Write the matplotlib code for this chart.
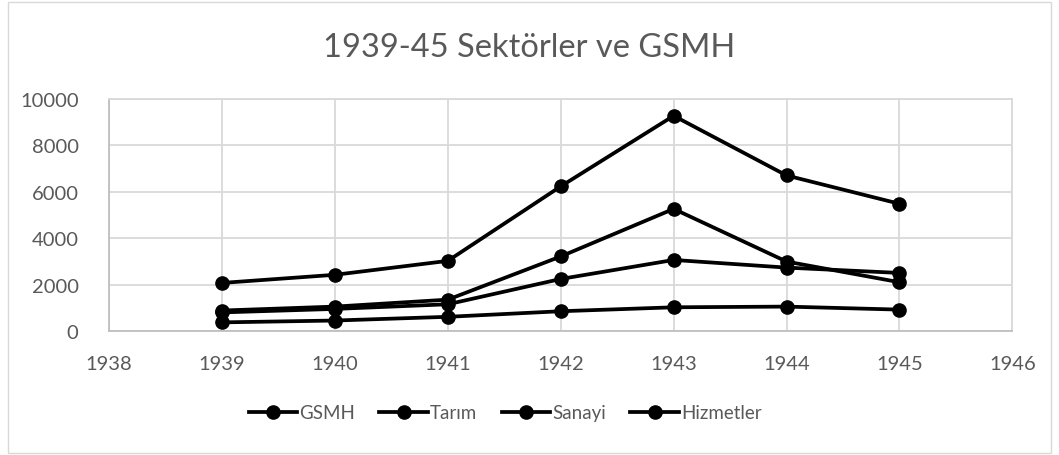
import matplotlib.pyplot as plt
from matplotlib.patches import Rectangle

years = [1939, 1940, 1941, 1942, 1943, 1944, 1945]
gsmh = [2070, 2420, 3020, 6230, 9270, 6700, 5480]
tarim = [880, 1050, 1350, 3210, 5260, 2990, 2100]
sanayi = [800, 950, 1150, 2240, 3060, 2730, 2500]
hizmetler = [370, 450, 610, 850, 1020, 1050, 920]

series = [("GSMH", gsmh), ("Tarım", tarim), ("Sanayi", sanayi), ("Hizmetler", hizmetler)]

plt.rcParams['font.family'] = ['Lato', 'DejaVu Sans']
text_gray = '#595959'
grid_gray = '#d9d9d9'

fig = plt.figure(figsize=(10.59, 4.56), dpi=100)
ax = fig.add_axes([0.103, 0.272, 0.853, 0.509])

# outer chart border
fig.patches.append(Rectangle((8 / 1059, 2 / 456), 1043 / 1059, 451 / 456,
                             transform=fig.transFigure, fill=False,
                             edgecolor=grid_gray, linewidth=1))

for name, vals in series:
    ax.plot(years, vals, color='black', linewidth=2.7, marker='o',
            markersize=9.5, label=name, clip_on=False, zorder=3)

ax.set_xlim(1938, 1946)
ax.set_ylim(0, 10000)
ax.set_xticks(range(1938, 1947))
ax.set_yticks(range(0, 10001, 2000))
ax.grid(True, color=grid_gray, linewidth=1.3)
ax.set_axisbelow(True)
for sp in ax.spines.values():
    sp.set_color(grid_gray)
    sp.set_linewidth(1.3)
ax.spines['bottom'].set_color('#bfbfbf')
ax.spines['left'].set_color('#bfbfbf')
ax.tick_params(length=0, labelsize=14.5, colors=text_gray)
ax.tick_params(axis='x', pad=17)
ax.tick_params(axis='y', pad=22)

fig.text(0.5, 0.895, "1939-45 Sektörler ve GSMH", ha='center', va='center',
         fontsize=23.5, color=text_gray)

fig.legend(loc='center', bbox_to_anchor=(0.477, 0.093), ncol=4, frameon=False,
           fontsize=13.5, labelcolor=text_gray, handlelength=2.6,
           handletextpad=0.1, columnspacing=1.3)

fig.savefig('out.png', dpi=100)
